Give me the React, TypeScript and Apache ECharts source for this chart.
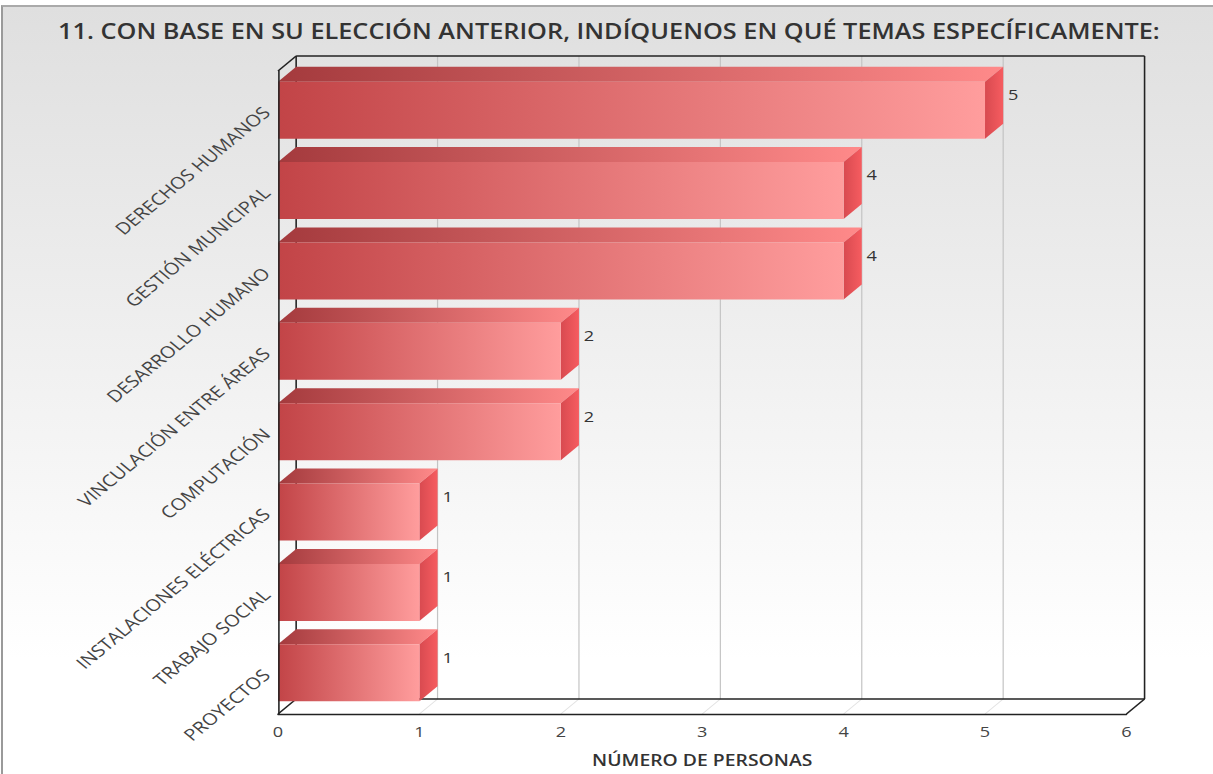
import React, { useEffect, useRef } from "react";
import * as echarts from "echarts";

const titleText = "11. CON BASE EN SU ELECCIÓN ANTERIOR, INDÍQUENOS EN QUÉ TEMAS ESPECÍFICAMENTE:";
const axisTitle = "NÚMERO DE PERSONAS";
const categories = [
  "DERECHOS HUMANOS",
  "GESTIÓN MUNICIPAL",
  "DESARROLLO HUMANO",
  "VINCULACIÓN ENTRE ÁREAS",
  "COMPUTACIÓN",
  "INSTALACIONES ELÉCTRICAS",
  "TRABAJO SOCIAL",
  "PROYECTOS",
];
const values = [5, 4, 4, 2, 2, 1, 1, 1];
const gridTicks = [1, 2, 3, 4, 5];

// The reference is a chart image stretched horizontally, so the chart is laid out narrower and widened by CSS.
const STRETCH = 1.21;
const WIDTH = 1213 / STRETCH;
const FONT = '"Open Sans", sans-serif';
const DX = 15;
const DY = 15;
const INK = "#222222";

const grad = (a: string, b: string) =>
  new echarts.graphic.LinearGradient(0, 0, 1, 0, [
    { offset: 0, color: a },
    { offset: 1, color: b },
  ]);

export default function App() {
  const ref = useRef<HTMLDivElement>(null);
  useEffect(() => {
    const chart = echarts.init(ref.current!, undefined, { renderer: "svg" });
    chart.setOption({
      animation: false,
      backgroundColor: "transparent",
      title: {
        text: titleText,
        left: 43,
        top: 15.5,
        textStyle: { fontFamily: FONT, fontSize: 20.9, fontWeight: 600, color: "#333333" },
      },
      grid: { left: 278 / STRETCH, right: 86 / STRETCH, top: 71, bottom: 60, containLabel: false },
      xAxis: {
        type: "value",
        min: 0,
        max: 6,
        interval: 1,
        name: axisTitle,
        nameLocation: "middle",
        nameGap: 37.5,
        nameTextStyle: { fontFamily: FONT, fontSize: 16, fontWeight: 600, color: "#333333" },
        axisLine: { show: true, lineStyle: { color: INK, width: 1.3 } },
        axisTick: { show: false },
        splitLine: { show: false },
        axisLabel: { fontFamily: FONT, fontSize: 15, color: "#444444", margin: 10 },
        z: 5,
      },
      yAxis: {
        type: "category",
        data: categories,
        inverse: true,
        axisLine: { show: true, lineStyle: { color: INK, width: 1.3 } },
        axisTick: { show: false },
        axisLabel: {
          rotate: 45,
          fontFamily: FONT,
          fontSize: 16.5,
          color: "#444444",
          margin: 8,
          verticalAlign: "bottom",
          lineHeight: 6,
          interval: 0,
        },
        z: 5,
      },
      series: [
        {
          type: "custom",
          z: 1,
          silent: true,
          data: gridTicks,
          encode: { x: 0 },
          renderItem: (params: any, api: any) => {
            const cs = params.coordSys;
            const bottom = cs.y + cs.height;
            const x = api.coord([api.value(0), 0])[0];
            const soft = { stroke: "#c4c4c4", lineWidth: 1, fill: "none" };
            return {
              type: "group",
              children: [
                {
                  type: "line",
                  shape: { x1: x + DX, y1: cs.y - DY, x2: x + DX, y2: bottom - DY },
                  style: soft,
                },
                {
                  type: "line",
                  shape: { x1: x + DX, y1: bottom - DY, x2: x, y2: bottom },
                  style: { ...soft, stroke: "#e2e2e2" },
                },
              ],
            };
          },
        },
        {
          type: "custom",
          z: 2,
          silent: true,
          data: [0],
          encode: { x: 0 },
          renderItem: (params: any) => {
            const cs = params.coordSys;
            const l = cs.x;
            const r = cs.x + cs.width;
            const t = cs.y;
            const b = cs.y + cs.height;
            const frame = { stroke: INK, lineWidth: 1.3, fill: "none" };
            const seg = (x1: number, y1: number, x2: number, y2: number) => ({
              type: "line",
              shape: { x1, y1, x2, y2 },
              style: frame,
            });
            return {
              type: "group",
              children: [
                seg(l + DX, t - DY, r + DX, t - DY),
                seg(r + DX, t - DY, r + DX, b - DY),
                seg(l + DX, b - DY, r + DX, b - DY),
                seg(l + DX, t - DY, l + DX, b - DY),
                seg(l, t, l + DX, t - DY),
                seg(l, b, l + DX, b - DY),
                seg(r, b, r + DX, b - DY),
              ],
            };
          },
        },
        {
          type: "custom",
          z: 3,
          data: values.map((v, i) => [v, i]),
          encode: { x: 0, y: 1 },
          renderItem: (_params: any, api: any) => {
            const v = api.value(0);
            const i = api.value(1);
            const [x0, yc] = api.coord([0, i]);
            const x1 = api.coord([v, i])[0];
            const h = api.size([0, 1])[1] * 0.71;
            const top = yc - 1 - h / 2;
            const bot = top + h;
            return {
              type: "group",
              children: [
                {
                  type: "polygon",
                  shape: {
                    points: [
                      [x0, top],
                      [x0 + DX, top - DY],
                      [x1 + DX, top - DY],
                      [x1, top],
                    ],
                  },
                  style: { fill: grad("#a43a3d", "#ff8a8a") },
                },
                {
                  type: "polygon",
                  shape: {
                    points: [
                      [x1, top],
                      [x1 + DX, top - DY],
                      [x1 + DX, bot - DY],
                      [x1, bot],
                    ],
                  },
                  style: { fill: grad("#d84a50", "#f65c60") },
                },
                {
                  type: "rect",
                  shape: { x: x0, y: top, width: x1 - x0, height: h },
                  style: { fill: grad("#c24447", "#ff9d9d") },
                },
                {
                  type: "text",
                  x: x1 + DX + 4,
                  y: yc - 2 - DY,
                  style: {
                    text: String(v),
                    fontFamily: FONT,
                    fontSize: 15,
                    fill: "#333333",
                    align: "left",
                    verticalAlign: "middle",
                  },
                },
              ],
            };
          },
        },
      ],
    });
    return () => chart.dispose();
  }, []);

  return (
    <div style={{ position: "absolute", left: 0, top: 0, width: 1213, height: 774, background: "#ffffff", overflow: "hidden" }}>
      <div
        style={{
          position: "absolute",
          left: 1,
          top: 5,
          width: 1212,
          height: 769,
          boxSizing: "border-box",
          borderLeft: "2px solid #9a9a9a",
          borderTop: "2px solid #aaaaaa",
          background: "linear-gradient(#dfdfdf 0%, #ffffff 85%)",
        }}
      />
      <div
        ref={ref}
        style={{
          position: "absolute",
          left: 0,
          top: 0,
          width: WIDTH,
          height: 774,
          transformOrigin: "0 0",
          transform: `scaleX(${STRETCH})`,
        }}
      />
    </div>
  );
}
